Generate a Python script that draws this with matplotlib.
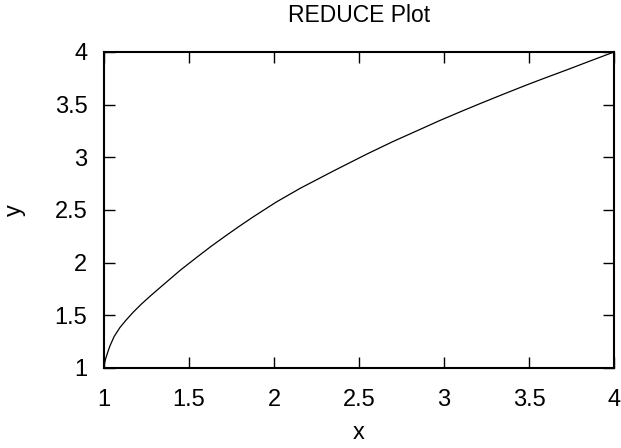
import matplotlib
matplotlib.use("Agg")
import matplotlib.pyplot as plt

x_vals = [1.0, 1.003, 1.01, 1.02, 1.035, 1.06, 1.094, 1.13, 1.172, 1.22,
          1.27, 1.32, 1.369, 1.45, 1.545, 1.63, 1.722, 1.80, 1.878, 1.95,
          2.016, 2.153, 2.349, 2.545, 2.70, 2.859, 2.976, 3.10, 3.212, 3.35,
          3.486, 3.60, 3.722, 3.86, 4.0]
y_vals = [1.0, 1.045, 1.09, 1.14, 1.21, 1.30, 1.385, 1.455, 1.53, 1.607,
          1.68, 1.75, 1.818, 1.93, 2.05, 2.155, 2.262, 2.35, 2.435, 2.51,
          2.578, 2.705, 2.87, 3.03, 3.15, 3.265, 3.35, 3.435, 3.51, 3.60,
          3.687, 3.757, 3.83, 3.915, 4.0]
x_ticks = [1, 1.5, 2, 2.5, 3, 3.5, 4]
y_ticks = [1, 1.5, 2, 2.5, 3, 3.5, 4]
x_ticklabels = ["1", "1.5", "2", "2.5", "3", "3.5", "4"]
y_ticklabels = ["1", "1.5", "2", "2.5", "3", "3.5", "4"]

plt.rcParams['font.family'] = ['Liberation Sans', 'DejaVu Sans']

W, H = 621, 448
fig = plt.figure(figsize=(W/100, H/100), dpi=100)
L, R, T, B = 104, 614, 52, 368
ax = fig.add_axes([L/W, 1 - B/H, (R-L)/W, (B-T)/H])
ax.plot(x_vals, y_vals, color='black', linewidth=0.9)
ax.set_xlim(1, 4)
ax.set_ylim(1, 4)
ax.set_xticks(x_ticks)
ax.set_xticklabels(x_ticklabels)
ax.set_yticks(y_ticks)
ax.set_yticklabels(y_ticklabels)
ax.tick_params(direction='in', length=8, width=1, labelsize=17,
               top=True, right=True)
ax.tick_params(axis='x', pad=15)
ax.tick_params(axis='y', pad=12)
for s in ax.spines.values():
    s.set_linewidth(1.5)
ax.set_xlabel('x', fontsize=17)
ax.xaxis.set_label_coords(0.5, (B - 433) / (B - T))
ax.xaxis.label.set_va('center')
ax.set_ylabel('y', fontsize=17, rotation=90)
ax.yaxis.set_label_coords((15 - L) / (R - L), 0.5)
ax.yaxis.label.set_va('center')
fig.text((L + R) / 2 / W, 1 - 15 / H, 'REDUCE Plot', fontsize=16.5,
         ha='center', va='center')
fig.savefig('out.png', dpi=100)
